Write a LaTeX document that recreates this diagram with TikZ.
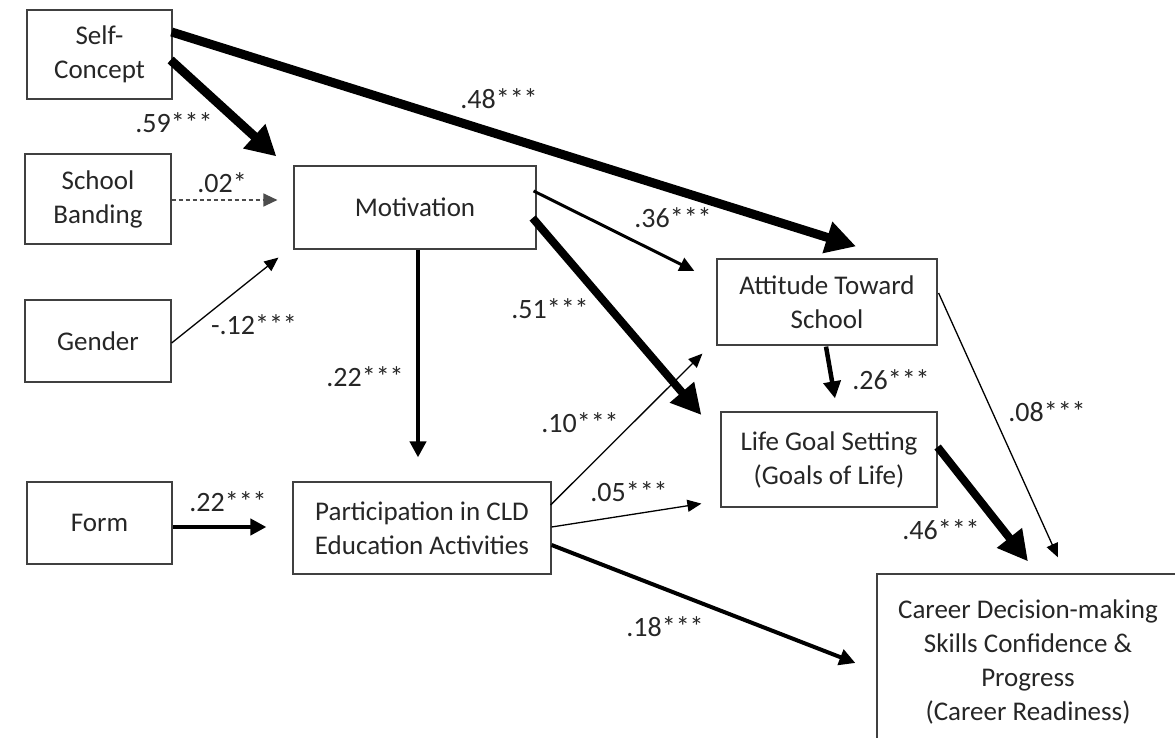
\documentclass[tikz,border=0pt]{standalone}
\usepackage{fontspec}
\setmainfont{Carlito}
\usetikzlibrary{arrows.meta,calc}
\begin{document}
\begin{tikzpicture}[x=1pt,y=-1pt,
  box/.style={draw=black!75,line width=1.2pt,align=center,inner sep=0pt,text=black!85,
    font=\fontsize{27}{34}\selectfont},
  lbl/.style={text=black!85,font=\fontsize{28}{32}\selectfont,inner sep=0pt},
  a9/.style={line width=9pt,-{Triangle[length=30pt,width=31pt]}},
  a8/.style={line width=8pt,-{Triangle[length=30pt,width=30pt]}},
  a4/.style={line width=4pt,-{Triangle[length=16pt,width=16pt]}},
  a3/.style={line width=3pt,-{Triangle[length=15pt,width=14pt]}},
  a1/.style={line width=1.3pt,-{Triangle[length=14pt,width=12pt]}},
  ad/.style={line width=1.3pt,draw=black!70,dash pattern=on 4pt off 3pt,-{Triangle[length=14pt,width=13pt]}}
]
\useasboundingbox (0,0) rectangle (1175,738);
\clip (0,0) rectangle (1175,738);

% boxes
\node[box,minimum width=145pt,minimum height=89pt] (self) at (99.5,54.5) {Self-\\Concept};
\node[box,minimum width=146pt,minimum height=90pt] (band) at (98,199) {School\\Banding};
\node[box,minimum width=146pt,minimum height=82pt] (gender) at (98,341) {Gender};
\node[box,minimum width=145pt,minimum height=82pt] (form) at (99.5,523) {Form};
\node[box,minimum width=242pt,minimum height=83pt] (motiv) at (415,207.5) {Motivation};
\node[box,minimum width=258pt,minimum height=92pt] (part) at (422,528) {Participation in CLD\\Education Activities};
\node[box,minimum width=220pt,minimum height=86pt] (att) at (827,302) {Attitude Toward\\School};
\node[box,minimum width=216pt,minimum height=95pt] (life) at (829,459.5) {Life Goal Setting\\(Goals of Life)};
\node[box,minimum width=302pt,minimum height=176pt] (career) at (1028,662) {Career Decision-making\\Skills Confidence \&\\Progress\\(Career Readiness)};

% arrow tips
\coordinate (t59) at ($(motiv.north west)+(-17,-9)$);
\coordinate (t48) at ($(att.north)+(29,-12)$);
\coordinate (t02) at ($(motiv.west)+(-16,-7.5)$);
\coordinate (t12) at ($(motiv.south west)+(-15,8)$);
\coordinate (t22a) at ($(part.north)+(-4,-24)$);
\coordinate (t36) at ($(att.west)+(-22,-31)$);
\coordinate (t51) at ($(life.west)+(-19,-44.5)$);
\coordinate (t22b) at ($(part.west)+(-26,-1)$);
\coordinate (t10) at ($(att.south west)+(-14,8)$);
\coordinate (t05) at ($(life.south west)+(-19,-4)$);
\coordinate (t18) at ($(career.west)+(-21,1)$);
\coordinate (t26) at ($(life.north)+(6,-13)$);
\coordinate (t08) at ($(career.north)+(30,-16)$);
\coordinate (t46) at ($(career.north)+(0,-12)$);

% connectors
\draw[a9] ($(self.east)+(-2,5.5)$) -- (t59);
\draw[a9] ($(self.east)+(-1,-22.5)$) -- (t48);
\draw[ad] ($(band.east)+(0,1)$) -- (t02);
\draw[a1] ($(gender.east)+(0,2)$) -- (t12);
\draw[a4] ($(motiv.south)+(3,0)$) -- (t22a);
\draw[a3] ($(motiv.east)+(-3,-16.5)$) -- (t36);
\draw[a8] ($(motiv.east)+(-4,10.5)$) -- (t51);
\draw[a4] ($(form.east)+(0,4)$) -- (t22b);
\draw[a1] ($(part.east)+(-1,-23)$) -- (t10);
\draw[a1] ($(part.east)+(0,-1)$) -- (t05);
\draw[a4] ($(part.east)+(0,17)$) -- (t18);
\draw[line width=4.5pt,-{Triangle[length=17pt,width=17pt]}] ($(att.south)+(-1,1)$) -- (t26);
\draw[a1] ($(att.east)+(1,-9)$) -- (t08);
\draw[a8] ($(life.east)+(0,-12.5)$) -- (t46);

% labels
\node[lbl] (l59) at (174,123) {.59***};
\node[lbl] (l48) at (499,99) {.48***};
\node[lbl] (l02) at (222,183) {.02*};
\node[lbl] (l12) at (254,325) {-.12***};
\node[lbl] (l22a) at (365,377) {.22***};
\node[lbl] (l36) at (673,218) {.36***};
\node[lbl] (l51) at (550,309) {.51***};
\node[lbl] (l10) at (580,423) {.10***};
\node[lbl] (l05) at (629,492) {.05***};
\node[lbl] (l18) at (665,627) {.18***};
\node[lbl] (l22b) at (228,502) {.22***};
\node[lbl] (l26) at (891,380) {.26***};
\node[lbl] (l08) at (1047,412) {.08***};
\node[lbl] (l46) at (941,530) {.46***};
\end{tikzpicture}
\end{document}
